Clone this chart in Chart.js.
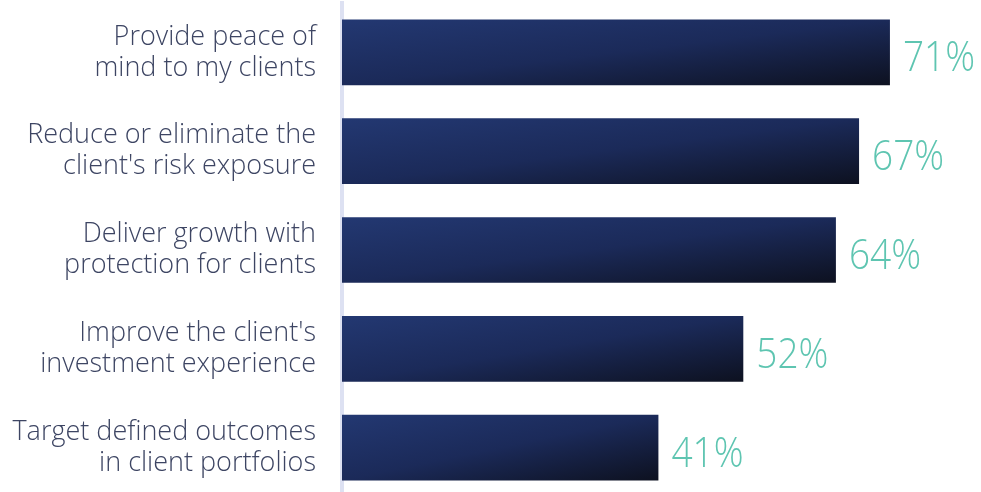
<!DOCTYPE html>
<html>
<head>
<meta charset="utf-8">
<script src="https://cdn.jsdelivr.net/npm/chart.js@4/dist/chart.umd.min.js"></script>
<style>
  html, body { margin: 0; padding: 0; background: #ffffff; overflow: hidden; }
  #wrap { width: 981px; height: 492px; overflow: hidden; }
  canvas { display: block; }
</style>
</head>
<body>
<div id="wrap"><canvas id="c" width="981" height="497"></canvas></div>
<script>
const categories = [
  ['Provide peace of', 'mind to my clients'],
  ['Reduce or eliminate the', "client's risk exposure"],
  ['Deliver growth with', 'protection for clients'],
  ["Improve the client's", 'investment experience'],
  ['Target defined outcomes', 'in client portfolios']
];
const values = [71, 67, 64, 52, 41];
const valueLabels = ['71%', '67%', '64%', '52%', '41%'];

const FONT = "'Open Sans', 'Segoe UI', sans-serif";

const gradientPlugin = {
  id: 'barGradient',
  beforeDatasetsDraw(chart) {
    const ctx = chart.ctx;
    chart.getDatasetMeta(0).data.forEach(el => {
      const p = el.getProps(['x', 'y', 'base', 'height'], true);
      const left = Math.min(p.base, p.x), right = Math.max(p.base, p.x);
      const w = right - left, h = p.height;
      const top = p.y - h / 2;
      const gx = 1 / (2 * w), gy = 1 / (2 * h);
      const g2 = gx * gx + gy * gy;
      const g = ctx.createLinearGradient(left, top, left + gx / g2, top + gy / g2);
      g.addColorStop(0, '#233872');
      g.addColorStop(0.5, '#1b2a59');
      g.addColorStop(1, '#0d1120');
      el.options.backgroundColor = g;
    });
  }
};

const labelPlugin = {
  id: 'valueLabels',
  afterDatasetsDraw(chart) {
    const ctx = chart.ctx;
    chart.getDatasetMeta(0).data.forEach((el, i) => {
      const p = el.getProps(['x', 'y'], true);
      ctx.save();
      ctx.font = "300 43px " + FONT;
      ctx.fillStyle = '#5ec5b1';
      ctx.textAlign = 'left';
      ctx.textBaseline = 'alphabetic';
      ctx.translate(p.x + 13, p.y + 19);
      ctx.scale(0.86, 1);
      ctx.fillText(valueLabels[i], 0, 0);
      ctx.restore();
    });
  }
};

new Chart(document.getElementById('c'), {
  type: 'bar',
  data: {
    labels: categories,
    datasets: [{
      data: values,
      backgroundColor: () => '#1c2d5e',
      borderWidth: 0,
      categoryPercentage: 1,
      barPercentage: 0.665
    }]
  },
  options: {
    indexAxis: 'y',
    responsive: false,
    animation: false,
    devicePixelRatio: 1,
    layout: { padding: { top: 3, right: 0, bottom: 0, left: 0 } },
    plugins: { legend: { display: false }, tooltip: { enabled: false } },
    scales: {
      x: {
        display: false,
        min: 0,
        max: 82.8
      },
      y: {
        grid: { display: false, drawTicks: false },
        border: { display: true, color: '#dde1f2', width: 4 },
        ticks: {
          color: '#3d4563',
          padding: 26,
          font: { family: FONT, size: 27, weight: '300', lineHeight: 1.15 }
        },
        afterFit(scale) {
          scale.width = 342;
          scale.paddingTop = 0;
          scale.paddingBottom = 0;
        }
      }
    }
  },
  plugins: [gradientPlugin, labelPlugin]
});
</script>
</body>
</html>
